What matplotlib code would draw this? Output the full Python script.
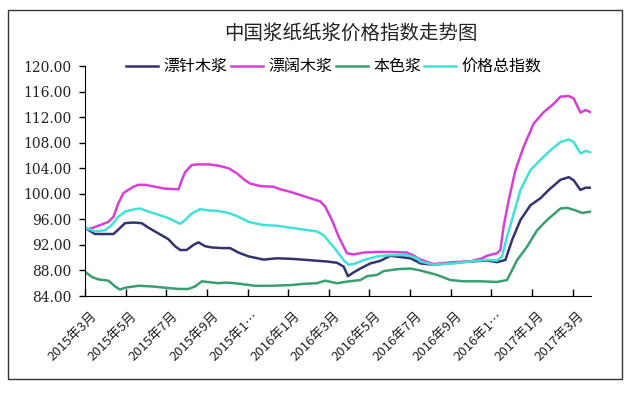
"""China pulp & paper price index trend chart (line chart, 4 series)."""

import matplotlib
matplotlib.use("Agg")
import matplotlib.pyplot as plt
from matplotlib.patches import Rectangle
from matplotlib.transforms import ScaledTranslation

CJK = ["Noto Sans CJK SC", "DejaVu Sans"]
plt.rcParams["font.family"] = CJK

# ── Colours ──────────────────────────────────────────────────────────────
NAVY = "#33336F"
MAGENTA = "#D640D6"
GREEN = "#3A9E70"
CYAN = "#40E2D8"

# ── Data (x = months since 2015年3月) ──────────────────────────────────────
zhen_x = [0, 0.49, 0.99, 1.4, 1.64, 1.97, 2.38, 2.79, 3.12, 3.61, 4.1, 4.43,
          4.68, 5.0, 5.34, 5.58, 5.91, 6.24, 6.73, 7.14, 7.55, 8.05, 8.79,
          9.44, 10.26, 11.09, 11.91, 12.4, 12.73, 12.94, 13.22, 13.55, 14.04,
          14.53, 15.03, 15.52, 16.01, 16.34, 16.5, 17.16, 18.14, 18.96, 19.78,
          20.28, 20.69, 21.02, 21.43, 21.92, 22.41, 22.82, 23.4, 23.81, 24.05,
          24.38, 24.63, 24.87]
zhen_y = [94.7, 93.7, 93.7, 93.7, 94.4, 95.4, 95.5, 95.4, 94.7, 93.8, 92.9, 91.8,
          91.2, 91.2, 92.0, 92.4, 91.8, 91.6, 91.5, 91.5, 90.8, 90.2, 89.7,
          89.9, 89.8, 89.6, 89.4, 89.2, 88.6, 87.1, 87.7, 88.3, 89.1,
          89.5, 90.3, 90.1, 89.9, 89.4, 89.1, 88.9, 89.2, 89.4, 89.55,
          89.3, 89.65, 92.8, 95.9, 98.2, 99.3, 100.6, 102.2, 102.6, 102.1,
          100.6, 100.95, 100.95]

kuo_x = [0, 0.33, 0.66, 1.15, 1.4, 1.64, 1.89, 2.13, 2.38, 2.63, 2.96, 3.45,
         3.94, 4.6, 4.76, 4.93, 5.25, 5.58, 6.08, 6.57, 7.06, 7.47, 7.88,
         8.13, 8.62, 9.28, 9.61, 10.1, 10.6, 11.09, 11.58, 11.82, 12.15,
         12.48, 12.89, 13.22, 13.71, 14.37, 15.03, 15.85, 16.18, 16.5, 17.16,
         18.14, 18.96, 19.54, 19.78, 20.28, 20.44, 20.6, 20.85, 21.18, 21.59,
         22.08, 22.58, 23.07, 23.4, 23.81, 24.05, 24.38, 24.63, 24.87]
kuo_y = [94.4, 94.6, 95.0, 95.6, 96.4, 98.5, 100.1, 100.6, 101.1, 101.4, 101.4, 101.1,
         100.8, 100.7, 102.1, 103.4, 104.5, 104.6, 104.6, 104.4, 104.0, 103.2, 102.1,
         101.6, 101.2, 101.1, 100.7, 100.3, 99.8, 99.3, 98.8, 98.0, 95.9,
         93.3, 90.7, 90.5, 90.8, 90.9, 90.9, 90.8, 90.3, 89.7, 89.0,
         89.3, 89.4, 89.9, 90.3, 90.7, 91.2, 94.9, 99.0, 103.7, 107.4,
         111.0, 112.8, 114.1, 115.2, 115.3, 114.9, 112.7, 113.1, 112.8]

bense_x = [0, 0.33, 0.66, 1.15, 1.48, 1.72, 1.97, 2.63, 3.28, 3.94, 4.6, 5.09,
           5.42, 5.75, 6.16, 6.57, 6.9, 7.39, 7.88, 8.37, 9.12, 10.1, 10.76,
           11.41, 11.82, 12.4, 12.89, 13.55, 13.88, 14.37, 14.7, 15.36, 16.01,
           16.5, 17.32, 17.98, 18.63, 19.46, 20.28, 20.77, 21.26, 21.75, 22.25,
           22.74, 23.4, 23.72, 24.14, 24.46, 24.87]
bense_y = [87.8, 87.0, 86.6, 86.4, 85.5, 85.0, 85.3, 85.6, 85.5, 85.3, 85.1, 85.1,
           85.5, 86.3, 86.15, 86.0, 86.1, 86.0, 85.8, 85.6, 85.6, 85.7, 85.9,
           86.0, 86.4, 86.0, 86.25, 86.5, 87.1, 87.3, 87.9, 88.2, 88.3,
           88.0, 87.3, 86.5, 86.3, 86.3, 86.2, 86.5, 89.6, 91.7, 94.3,
           95.9, 97.7, 97.8, 97.4, 97.0, 97.2]

total_x = [0, 0.49, 0.99, 1.31, 1.64, 1.97, 2.3, 2.71, 3.04, 3.53, 4.1, 4.68,
           4.93, 5.25, 5.66, 6.08, 6.57, 7.06, 7.55, 8.05, 8.79, 9.44, 10.1,
           10.76, 11.41, 11.74, 12.23, 12.73, 12.97, 13.22, 13.71, 14.37, 15.03,
           15.85, 16.34, 16.5, 17.16, 18.14, 18.96, 19.78, 20.28, 20.52, 20.77,
           21.1, 21.43, 21.92, 22.41, 22.9, 23.4, 23.81, 24.05, 24.38, 24.63,
           24.87]
total_y = [94.7, 94.1, 94.3, 95.1, 96.4, 97.2, 97.5, 97.7, 97.3, 96.8, 96.2, 95.3,
           95.9, 96.9, 97.6, 97.4, 97.3, 97.0, 96.4, 95.6, 95.1, 95.0, 94.7,
           94.4, 94.1, 93.5, 91.7, 89.6, 88.9, 89.0, 89.6, 90.2, 90.4,
           90.4, 89.9, 89.4, 88.9, 89.1, 89.4, 89.65, 89.55, 90.2, 93.3,
           96.9, 100.6, 103.7, 105.3, 106.8, 108.1, 108.5, 108.1, 106.3, 106.7,
           106.5]

series_names = ["漂针木浆", "漂阔木浆", "本色浆", "价格总指数"]
tick_labels = ["2015年3月", "2015年5月", "2015年7月", "2015年9月", "2015年1…",
               "2016年1月", "2016年3月", "2016年5月", "2016年7月", "2016年9月",
               "2016年1…", "2017年1月", "2017年3月"]
y_ticks = [84, 88, 92, 96, 100, 104, 108, 112, 116, 120]

W, H = 631, 393
fig = plt.figure(figsize=(W / 100, H / 100), dpi=100)
fig.patch.set_facecolor("white")

# outer chart frame
fig.patches.append(Rectangle((8 / W, 1 - 379 / H), 614 / W, 369 / H,
                             transform=fig.transFigure, fill=False,
                             edgecolor="#333333", linewidth=1.0))

ax = fig.add_axes([85 / W, 1 - 296 / H, 506 / W, 230 / H])
ax.set_facecolor("white")

lw = 1.8
ax.plot(zhen_x, zhen_y, color=NAVY, lw=lw, label=series_names[0])
ax.plot(kuo_x, kuo_y, color=MAGENTA, lw=lw, label=series_names[1])
ax.plot(bense_x, bense_y, color=GREEN, lw=lw, label=series_names[2])
ax.plot(total_x, total_y, color=CYAN, lw=lw, label=series_names[3])

ax.set_xlim(0, 24.9)
ax.set_ylim(84, 120)

ax.spines["top"].set_visible(False)
ax.spines["right"].set_visible(False)
ax.spines["left"].set_color("black")
ax.spines["bottom"].set_color("black")

ax.set_yticks(y_ticks)
ax.set_yticklabels([f"{v:.2f}" for v in y_ticks], family="DejaVu Serif",
                   fontsize=10, color="#222222")
ax.tick_params(axis="y", direction="out", length=4, width=1, pad=6)

ax.set_xticks(range(0, 25, 2))
ax.set_xticklabels(tick_labels, rotation=45, ha="right", va="top",
                   rotation_mode="anchor", fontsize=9.5, color="#222222",
                   family=CJK)
ax.tick_params(axis="x", direction="in", length=5, width=1, pad=10)
shift = ScaledTranslation(5 / 100, 0, fig.dpi_scale_trans)
for lab in ax.get_xticklabels():
    lab.set_transform(lab.get_transform() + shift)

fig.text(351 / W, 1 - 33 / H, "中国浆纸纸浆价格指数走势图", ha="center",
         va="center", fontsize=14, color="#222222")

fig.legend(loc="center", bbox_to_anchor=(334 / W, 1 - 67 / H), ncol=4,
           frameon=False, fontsize=11.5, handlelength=2.0, handletextpad=0.35,
           columnspacing=0.2, borderaxespad=0, borderpad=0)

fig.savefig("out.png", dpi=100, facecolor="white")
